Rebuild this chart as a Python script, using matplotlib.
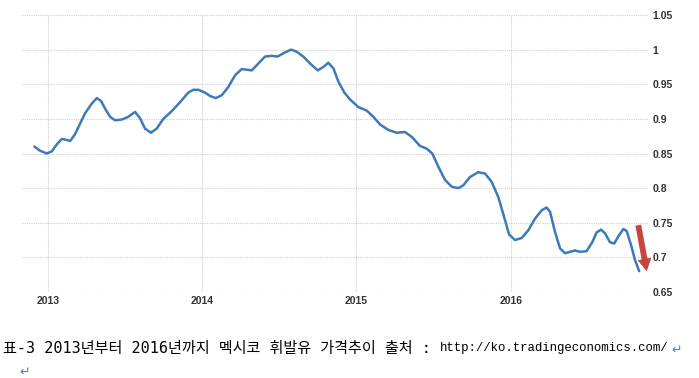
import numpy as np
import matplotlib.pyplot as plt

# Mexico gasoline price (decimal year, USD/litre)
years = [2012.913, 2012.950, 2012.994, 2013.026, 2013.058, 2013.091, 2013.117, 2013.145,
         2013.177, 2013.209, 2013.242, 2013.285, 2013.318, 2013.345, 2013.371, 2013.404,
         2013.436, 2013.479, 2013.522, 2013.566, 2013.598, 2013.630, 2013.669, 2013.706,
         2013.749, 2013.803, 2013.857, 2013.911, 2013.943, 2013.976, 2014.019, 2014.052,
         2014.089, 2014.127, 2014.170, 2014.214, 2014.257, 2014.289, 2014.322, 2014.365,
         2014.408, 2014.451, 2014.490, 2014.538, 2014.577, 2014.613, 2014.656, 2014.700,
         2014.750, 2014.786, 2014.818, 2014.851, 2014.883, 2014.922, 2014.959, 2015.013,
         2015.067, 2015.110, 2015.153, 2015.207, 2015.261, 2015.315, 2015.359, 2015.412,
         2015.456, 2015.492, 2015.531, 2015.574, 2015.618, 2015.661, 2015.693, 2015.736,
         2015.790, 2015.834, 2015.877, 2015.920, 2015.963, 2015.990, 2016.028, 2016.071,
         2016.114, 2016.158, 2016.201, 2016.233, 2016.255, 2016.287, 2016.320, 2016.352,
         2016.384, 2016.417, 2016.449, 2016.492, 2016.529, 2016.557, 2016.585, 2016.611,
         2016.643, 2016.671, 2016.697, 2016.730, 2016.752, 2016.780, 2016.806, 2016.833]
price = [0.860, 0.854, 0.850, 0.853, 0.863, 0.871, 0.870, 0.868,
         0.878, 0.893, 0.908, 0.922, 0.930, 0.926, 0.915, 0.903,
         0.898, 0.899, 0.903, 0.910, 0.901, 0.886, 0.880, 0.886,
         0.900, 0.911, 0.924, 0.938, 0.942, 0.942, 0.938, 0.933,
         0.930, 0.934, 0.946, 0.963, 0.972, 0.971, 0.970, 0.980,
         0.990, 0.991, 0.990, 0.996, 1.000, 0.997, 0.990, 0.980,
         0.970, 0.975, 0.981, 0.973, 0.954, 0.938, 0.928, 0.917,
         0.912, 0.903, 0.892, 0.884, 0.880, 0.881, 0.874, 0.861,
         0.857, 0.850, 0.831, 0.812, 0.802, 0.800, 0.804, 0.816,
         0.823, 0.821, 0.809, 0.787, 0.754, 0.733, 0.725, 0.728,
         0.739, 0.756, 0.768, 0.772, 0.766, 0.737, 0.713, 0.706,
         0.708, 0.710, 0.708, 0.709, 0.722, 0.736, 0.740, 0.735,
         0.722, 0.720, 0.730, 0.741, 0.738, 0.718, 0.696, 0.680]

# red "falling" arrow (start -> end)
arrow_start = (2016.827, 0.7465)
arrow_end = (2016.882, 0.680)

yticks = [0.65, 0.7, 0.75, 0.8, 0.85, 0.9, 0.95, 1, 1.05]
ytick_labels = ["0.65", "0.7", "0.75", "0.8", "0.85", "0.9", "0.95", "1", "1.05"]
xticks = [2013, 2014, 2015, 2016]

caption = "표-3 2013년부터 2016년까지 멕시코 휘발유 가격추이 출처 :"
source_url = "http://ko.tradingeconomics.com/"

fig = plt.figure(figsize=(6.99, 3.78), dpi=100)
ax = fig.add_axes([22 / 699, 1 - 292 / 378, (648 - 22) / 699, 277 / 378])

ax.plot(years, price, color="#3d7ab8", lw=1.8, solid_capstyle="round",
        solid_joinstyle="round", zorder=3)

ax.annotate("", xy=arrow_end, xytext=arrow_start,
            arrowprops=dict(arrowstyle="simple,head_width=1.0,head_length=0.9,tail_width=0.42",
                            color="#c8453f", lw=0, shrinkA=0, shrinkB=0),
            annotation_clip=False, zorder=4)

ax.set_xlim(2012.833, 2016.890)
ax.set_ylim(0.65, 1.05)
ax.set_yticks(yticks)
ax.set_yticklabels(ytick_labels)
ax.set_xticks(xticks)
ax.set_xticklabels([str(x) for x in xticks])
ax.yaxis.tick_right()
ax.tick_params(axis="both", length=0, labelsize=7.5)
ax.tick_params(axis="y", pad=3)
ax.tick_params(axis="x", pad=3)
for lab in ax.get_xticklabels() + ax.get_yticklabels():
    lab.set_family(["Liberation Sans", "DejaVu Sans"])
    lab.set_fontweight("bold")
    lab.set_color("#333333")
for s in ax.spines.values():
    s.set_visible(False)
ax.grid(True, color="#cfcfcf", linestyle=(0, (1, 1)), lw=0.8)
ax.set_axisbelow(True)

fig.text(3 / 699, 1 - 348 / 378, caption, family=["DejaVu Sans Mono", "Noto Sans CJK KR"],
         fontsize=10.9, va="center", ha="left", color="black")
fig.text(440 / 699, 1 - 348 / 378, source_url, family=["Liberation Mono", "DejaVu Sans Mono"],
         fontsize=8.9, va="center", ha="left", color="black")
fig.text(671 / 699, 1 - 350 / 378, "↵", family=["DejaVu Sans"], fontsize=9,
         va="center", ha="left", color="#4a7fc0")
fig.text(19 / 699, 1 - 372 / 378, "↵", family=["DejaVu Sans"], fontsize=9,
         va="center", ha="left", color="#4a7fc0")

fig.savefig("out.png", dpi=100)
